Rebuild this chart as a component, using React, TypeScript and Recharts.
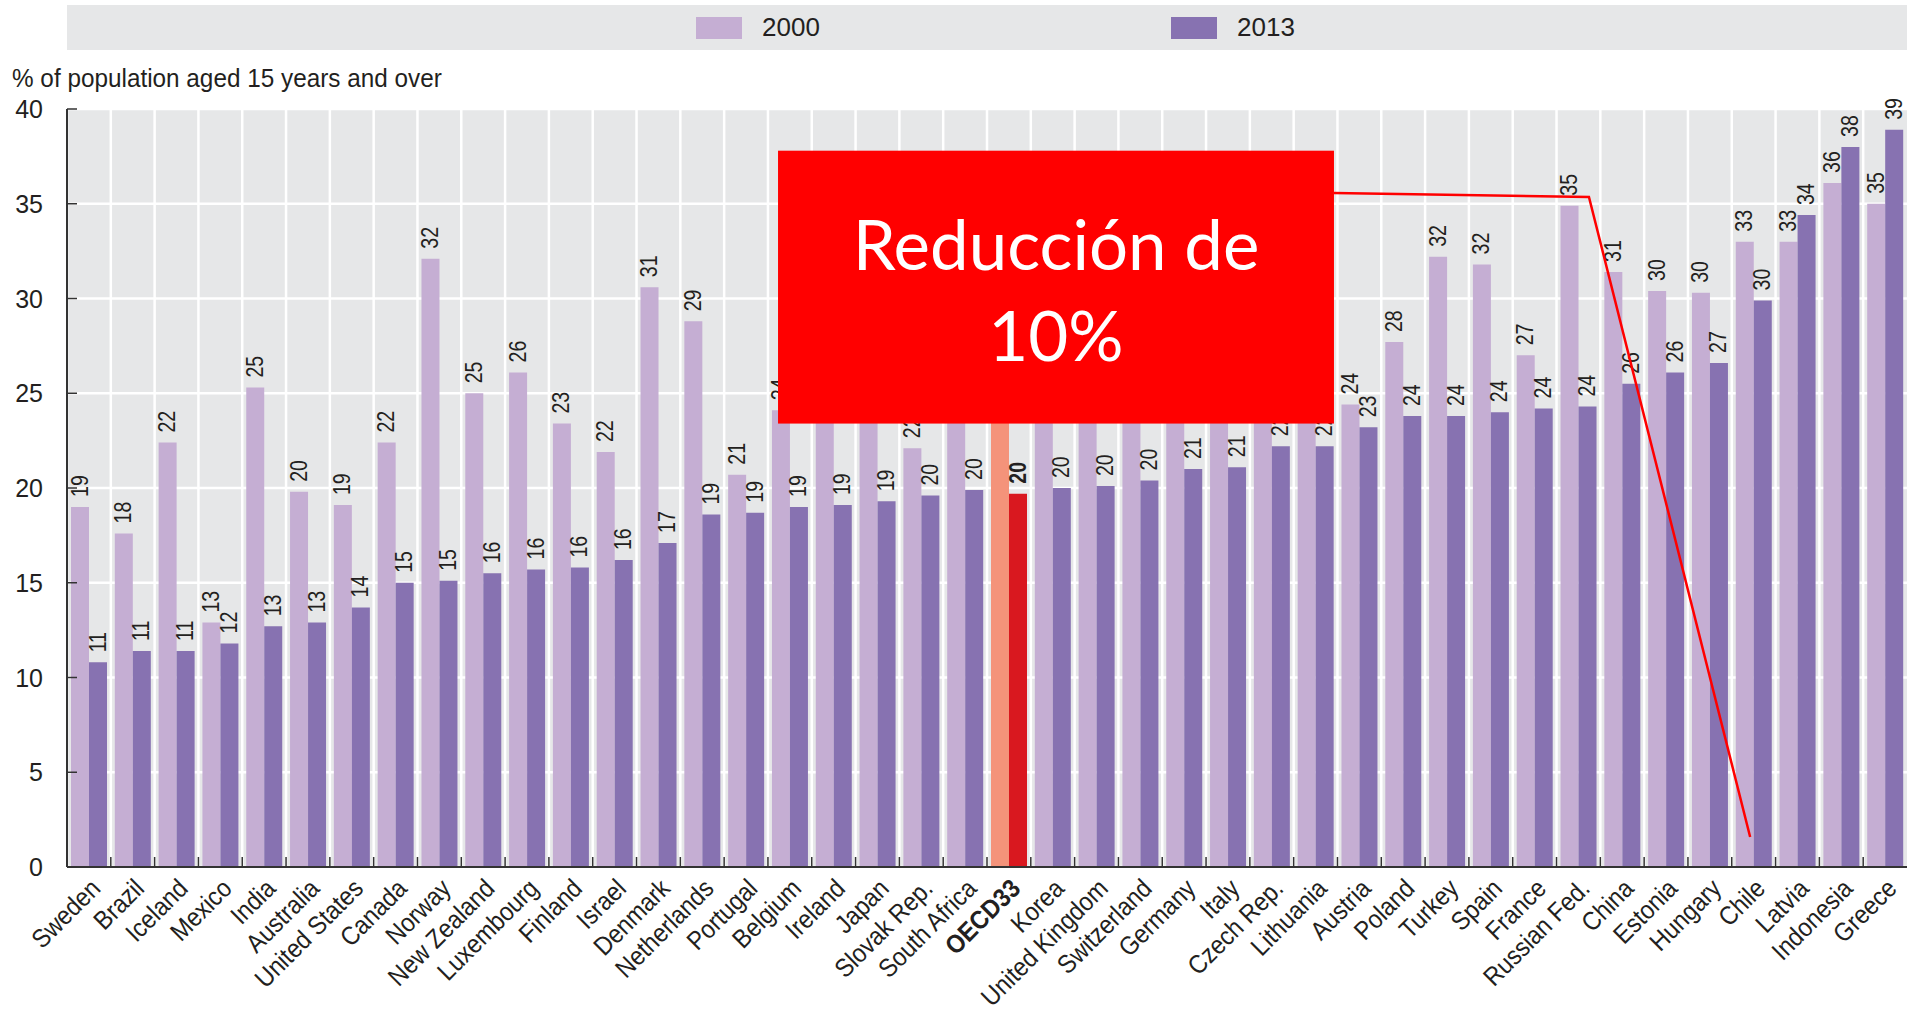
import React from "react";
import { Bar, BarChart, CartesianGrid, Cell, LabelList, XAxis, YAxis } from "recharts";

const COUNTRIES = [
  "Sweden", "Brazil", "Iceland", "Mexico", "India", "Australia", "United States", "Canada",
  "Norway", "New Zealand", "Luxembourg", "Finland", "Israel", "Denmark", "Netherlands",
  "Portugal", "Belgium", "Ireland", "Japan", "Slovak Rep.", "South Africa", "OECD33", "Korea",
  "United Kingdom", "Switzerland", "Germany", "Italy", "Czech Rep.", "Lithuania", "Austria",
  "Poland", "Turkey", "Spain", "France", "Russian Fed.", "China", "Estonia", "Hungary", "Chile",
  "Latvia", "Indonesia", "Greece",
];

// % of population aged 15+ smoking daily
const Y2000 = [
  19.0, 17.6, 22.4, 12.9, 25.3, 19.8, 19.1, 22.4, 32.1, 25.0, 26.1, 23.4, 21.9, 30.6, 28.8,
  20.7, 24.1, 27.0, 27.4, 22.1, 24.5, 26.0, 29.8, 27.0, 26.3, 24.3, 24.4, 24.8, 25.3, 24.4,
  27.7, 32.2, 31.8, 27.0, 34.9, 31.4, 30.4, 30.3, 33.0, 33.0, 36.1, 35.0,
];
const Y2013 = [
  10.8, 11.4, 11.4, 11.8, 12.7, 12.9, 13.7, 15.0, 15.1, 15.5, 15.7, 15.8, 16.2, 17.1, 18.6,
  18.7, 19.0, 19.1, 19.3, 19.6, 19.9, 19.7, 20.0, 20.1, 20.4, 21.0, 21.1, 22.2, 22.2, 23.2,
  23.8, 23.8, 24.0, 24.2, 24.3, 25.5, 26.1, 26.6, 29.9, 34.4, 38.0, 38.9,
];

const SERIES = [
  { key: "y2000", name: "2000" },
  { key: "y2013", name: "2013" },
];
const HIGHLIGHT = "OECD33";
const Y_MAX = 40;
const Y_TICKS = [0, 5, 10, 15, 20, 25, 30, 35, 40];
const Y_TITLE = "% of population aged 15 years and over";

// annotation, in (category index, %) units
const NOTE_TEXT = ["Reducción de", "10%"];
const NOTE_BOX = { x1: 16.23, x2: 28.92, y1: 23.4, y2: 37.8 };
const NOTE_PATH = [
  { x: 28.92, y: 35.57 },
  { x: 34.74, y: 35.36 },
  { x: 38.42, y: 1.58 },
];

const LIGHT = "#C5AED3";
const DARK = "#8772B1";
const HL_LIGHT = "#F4937A";
const HL_DARK = "#D9181F";
const BG = "#E6E7E8";
const INK = "#231F20";
const FONT = "'Liberation Sans', Arial, sans-serif";

const W = 1907;
const H = 1020;
const LEFT = 67;
const TOP = 109;
const XAXIS_H = 153;
const PLOT_W = W - LEFT;
const PLOT_H = H - TOP - XAXIS_H;
const BAND = PLOT_W / COUNTRIES.length;

// same mapping as the chart axes, used for the overlay note only
const px = (i: number) => LEFT + (i / COUNTRIES.length) * PLOT_W;
const py = (v: number) => TOP + ((Y_MAX - v) / Y_MAX) * PLOT_H;

const data = COUNTRIES.map((country, i) => ({ country, y2000: Y2000[i], y2013: Y2013[i] }));

function CountryTick(props: any) {
  const { x, y, payload } = props;
  const bold = payload.value === HIGHLIGHT;
  const tx = x + 13;
  const ty = y + 23;
  return (
    <g>
      <line x1={x - BAND / 2} x2={x - BAND / 2} y1={y - 10} y2={y} stroke="#333" strokeWidth={1.5} />
      <text
        textAnchor="end"
        transform={`translate(${tx} ${ty}) rotate(-45) scale(0.9 1)`}
        fontSize={26}
        fontFamily={FONT}
        fontWeight={bold ? 700 : 400}
        fill={INK}
      >
        {payload.value}
      </text>
    </g>
  );
}

function ValueTick(props: any) {
  const { x, y, payload } = props;
  return (
    <g>
      <line x1={LEFT} x2={LEFT + 10} y1={y} y2={y} stroke="#333" strokeWidth={1.5} />
      <text x={x} y={y} textAnchor="end" dominantBaseline="central" fontSize={25} fontFamily={FONT} fill={INK}>
        {payload.value}
      </text>
    </g>
  );
}

function BarValue(props: any) {
  const vb = props.viewBox || {};
  const x = props.x ?? vb.x;
  const y = props.y ?? vb.y;
  const width = props.width ?? vb.width;
  const { value, index } = props;
  if (x == null || value == null) return null;
  const cx = x + width / 2;
  const ty = y - 10;
  const bold = COUNTRIES[index] === HIGHLIGHT;
  return (
    <text
      transform={`translate(${cx} ${ty}) rotate(-90) scale(0.85 1)`}
      textAnchor="start"
      dominantBaseline="central"
      fontSize={23}
      fontFamily={FONT}
      fontWeight={bold ? 700 : 400}
      fill={INK}
    >
      {Math.round(value)}
    </text>
  );
}

function Note() {
  const x = px(NOTE_BOX.x1);
  const y = py(NOTE_BOX.y2);
  const w = px(NOTE_BOX.x2) - x;
  const h = py(NOTE_BOX.y1) - y;
  const points = NOTE_PATH.map((p) => `${px(p.x)},${py(p.y)}`).join(" ");
  return (
    <svg width={W} height={H} style={{ position: "absolute", left: 0, top: 0, pointerEvents: "none" }}>
      <polyline points={points} fill="none" stroke="#FF0000" strokeWidth={2.5} />
      <rect x={x} y={y} width={w} height={h} fill="#FF0000" />
      <g fontFamily="Lato, 'Open Sans', sans-serif" fontSize={69} fill="#fff" textAnchor="middle">
        <text x={x + w / 2} y={y + 119}>{NOTE_TEXT[0]}</text>
        <text x={x + w / 2} y={y + 210}>{NOTE_TEXT[1]}</text>
      </g>
    </svg>
  );
}

export default function App() {
  const colors = [LIGHT, DARK];
  const hl = [HL_LIGHT, HL_DARK];
  return (
    <div style={{ position: "relative", width: W, height: H, background: "#fff", overflow: "hidden" }}>
      <style>{"body{margin:0}"}</style>

      <div
        style={{
          position: "absolute",
          left: LEFT,
          top: 5,
          width: PLOT_W,
          height: 45,
          background: BG,
          fontFamily: FONT,
          fontSize: 26,
          color: INK,
        }}
      >
        {SERIES.map((s, i) => (
          <div
            key={s.key}
            style={{ position: "absolute", left: i === 0 ? 629 : 1104, top: 0, height: 45, display: "flex", alignItems: "center" }}
          >
            <span style={{ display: "inline-block", width: 46, height: 22, background: colors[i], marginRight: 20 }} />
            <span>{s.name}</span>
          </div>
        ))}
      </div>

      <div
        style={{
          position: "absolute",
          left: 12,
          top: 63,
          fontFamily: FONT,
          fontSize: 26,
          lineHeight: "30px",
          color: INK,
          whiteSpace: "nowrap",
          transform: "scaleX(0.935)",
          transformOrigin: "left center",
        }}
      >
        {Y_TITLE}
      </div>

      <div style={{ position: "absolute", left: 0, top: 0 }}>
        <BarChart
          width={W}
          height={H}
          data={data}
          margin={{ top: TOP, right: 0, bottom: 0, left: 0 }}
          barCategoryGap={4}
          barGap={0}
        >
          <CartesianGrid
            fill={BG}
            stroke="#fff"
            strokeWidth={2.5}
            verticalCoordinatesGenerator={({ offset }: any) =>
              COUNTRIES.map((_, i) => offset.left + (i * offset.width) / COUNTRIES.length)
            }
          />
          <XAxis
            dataKey="country"
            interval={0}
            height={XAXIS_H}
            tickSize={0}
            tickMargin={0}
            tick={<CountryTick />}
            axisLine={{ stroke: "#333", strokeWidth: 2 }}
          />
          <YAxis
            domain={[0, Y_MAX]}
            ticks={Y_TICKS}
            width={LEFT}
            tickSize={0}
            tickMargin={24}
            tick={<ValueTick />}
            axisLine={{ stroke: "#333", strokeWidth: 2 }}
          />
          {SERIES.map((s, si) => (
            <Bar key={s.key} dataKey={s.key} name={s.name} fill={colors[si]} isAnimationActive={false}>
              {data.map((d) => (
                <Cell key={d.country} fill={d.country === HIGHLIGHT ? hl[si] : colors[si]} />
              ))}
              <LabelList dataKey={s.key} content={<BarValue />} />
            </Bar>
          ))}
        </BarChart>
      </div>

      <Note />
    </div>
  );
}
